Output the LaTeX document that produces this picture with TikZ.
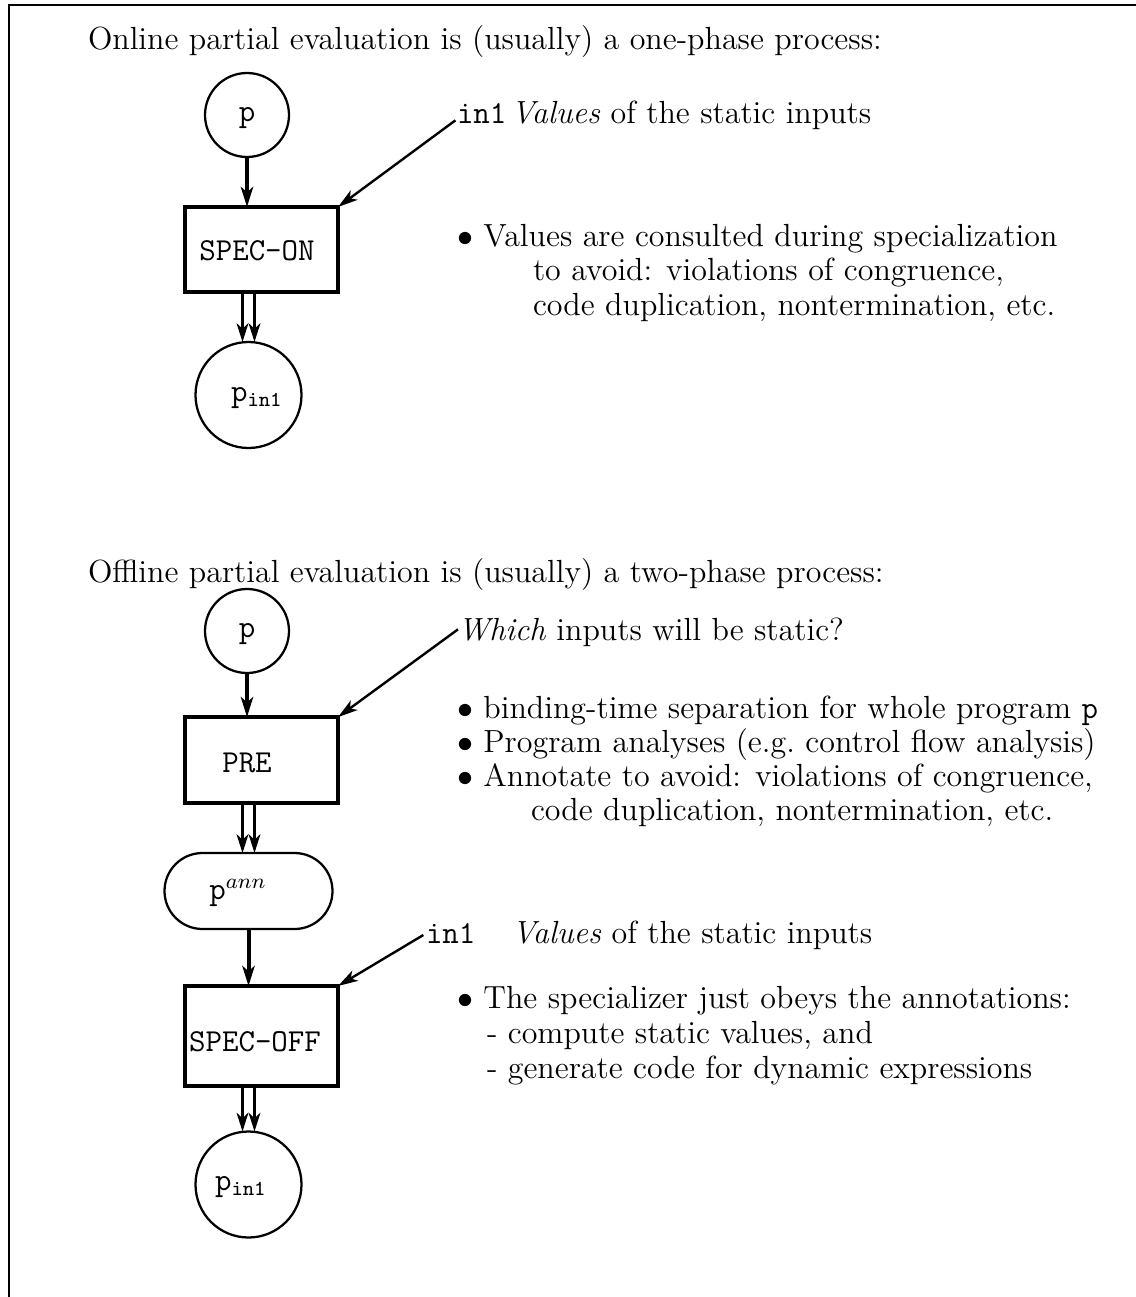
\documentclass[tikz,border=0pt]{standalone}
\usetikzlibrary{arrows.meta,shapes.misc}
\begin{document}
\begin{tikzpicture}[x=0.375pt,y=-0.375pt,
  every node/.style={inner sep=0pt,outer sep=0pt,font=\fontsize{12}{14}\selectfont},
  txt/.style={anchor=base west},
  progcircle/.style={draw,circle,line width=0.85pt,minimum size=31.5pt},
  outcircle/.style={draw,circle,line width=0.85pt,minimum size=39.75pt},
  procbox/.style={draw,line width=1.25pt,minimum width=57.4pt},
  annbox/.style={draw,rounded rectangle,line width=0.85pt,minimum width=63pt,minimum height=28.5pt},
  flow/.style={line width=1.5pt,-{Stealth[length=7.5pt,width=4.6pt,inset=2pt]}},
  dflow/.style={line width=1.1pt,-{Stealth[length=7pt,width=4.4pt,inset=2pt]}},
  inflow/.style={line width=0.9pt,-{Stealth[length=7.5pt,width=4.4pt,inset=2pt]}},
  frameline/.style={line width=0.9pt}]
\useasboundingbox (0,0) rectangle (1136,1297);

% frame: top and left edges
\coordinate (ftl) at (9,5);
\coordinate (ftr) at (1136,5);
\coordinate (fbl) at (9,1297);
\draw[frameline] (ftr) -- (ftl) -- (fbl);

% ---------------- online partial evaluation ----------------
\node[txt] (t1) at (88,49) {Online partial evaluation is (usually) a one-phase process:};

\node[progcircle] (p1) at (247,115) {};
\node (p1lab) at (247,118) {\texttt{p}};
\node[procbox,minimum height=31.9pt] (spec) at (261.5,249.5) {};
\node (speclab) at (257,251) {\texttt{SPEC-ON}};
\node[outcircle] (pin1) at (248.5,395) {};
\node (pin1lab) at (257,398) {$\mathtt{p}_{\mathtt{in1}}$};

\node[txt] (in1a) at (457,123) {\texttt{in1}};
\node[txt] (val1) at (511,123) {\textit{Values} of the static inputs};

\node[txt] (b1) at (457,246) {$\bullet$ Values are consulted during specialization};
\node[txt] (b1b) at (533,280) {to avoid: violations of congruence,};
\node[txt] (b1c) at (533,315) {code duplication, nontermination, etc.};

\draw[flow] (p1.south) -- (p1.south |- spec.north);
\draw[inflow] ([xshift=-0.6pt,yshift=1pt]in1a.base west) -- (spec.north east);
\draw[dflow] ([xshift=-2.25pt]pin1.north |- spec.south) -- ([xshift=-2.25pt]pin1.north);
\draw[dflow] ([xshift=2.25pt]pin1.north |- spec.south) -- ([xshift=2.25pt]pin1.north);

% ---------------- offline partial evaluation ----------------
\node[txt] (t2) at (88,582) {Offline partial evaluation is (usually) a two-phase process:};

\node[progcircle] (p2) at (247,631) {};
\node (p2lab) at (247,634) {\texttt{p}};
\node[procbox,minimum height=32.2pt] (pre) at (261.5,760) {};
\node (prelab) at (247,763) {\texttt{PRE}};
\node[annbox] (pann) at (248.5,891) {};
\node (pannlab) at (238,893) {$\mathtt{p}^{ann}$};
\node[procbox,minimum height=37.5pt] (specoff) at (261.5,1036) {};
\node (specofflab) at (255,1042) {\texttt{SPEC-OFF}};
\node[outcircle] (pin2) at (248.5,1184.5) {};
\node (pin2lab) at (241,1187) {$\mathtt{p}_{\mathtt{in1}}$};

\node[txt] (which) at (458,640) {\textit{Which} inputs will be static?};
\node[txt] (b2) at (457,718) {$\bullet$ binding-time separation for whole program \texttt{p}};
\node[txt] (b3) at (457,752) {$\bullet$ Program analyses (e.g.\ control flow analysis)};
\node[txt] (b4) at (457,786) {$\bullet$ Annotate to avoid: violations of congruence,};
\node[txt] (b4b) at (531,820) {code duplication, nontermination, etc.};

\node[txt] (in1b) at (426,943) {\texttt{in1}};
\node[txt] (val2) at (512,943) {\textit{Values} of the static inputs};
\node[txt] (b5) at (457,1008) {$\bullet$ The specializer just obeys the annotations:};
\node[txt] (b5b) at (487,1043) {- compute static values, and};
\node[txt] (b5c) at (487,1078) {- generate code for dynamic expressions};

\draw[flow] (p2.south) -- (p2.south |- pre.north);
\draw[inflow] ([yshift=4pt]which.base west) -- (pre.north east);
\draw[dflow] ([xshift=-2.25pt]pann.north |- pre.south) -- ([xshift=-2.25pt]pann.north);
\draw[dflow] ([xshift=2.25pt]pann.north |- pre.south) -- ([xshift=2.25pt]pann.north);
\draw[flow] (pann.south) -- (pann.south |- specoff.north);
\draw[inflow] ([xshift=-1pt,yshift=3pt]in1b.base west) -- (specoff.north east);
\draw[dflow] ([xshift=-2.25pt]pin2.north |- specoff.south) -- ([xshift=-2.25pt]pin2.north);
\draw[dflow] ([xshift=2.25pt]pin2.north |- specoff.south) -- ([xshift=2.25pt]pin2.north);
\end{tikzpicture}
\end{document}
